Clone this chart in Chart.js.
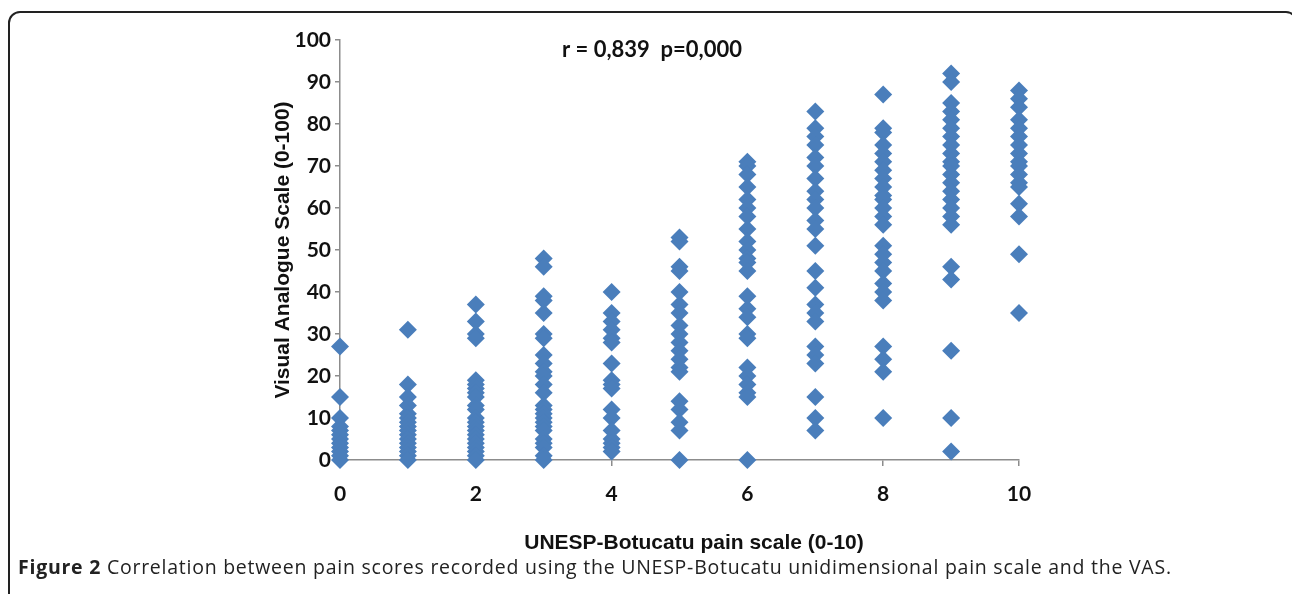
<!DOCTYPE html>
<html lang="en">

<head>
  <meta charset="UTF-8">
  <title>Figure 2</title>
  <script src="https://cdn.jsdelivr.net/npm/chart.js@4/dist/chart.umd.min.js"></script>
  <style>
    body {
      margin: 0;
      width: 1292px;
      height: 594px;
      overflow: hidden;
      background: #fff;
    }

    .frame {
      position: absolute;
      left: 8px;
      top: 11px;
      width: 1290px;
      height: 620px;
      border: 2px solid #222;
      border-radius: 12px;
      box-sizing: border-box;
    }

    .chartdiv {
      position: absolute;
      left: 0;
      top: 0;
      width: 1292px;
      height: 560px;
    }

    .caption {
      position: absolute;
      left: 18px;
      top: 553px;
      font-family: "Open Sans", sans-serif;
      font-size: 19.5px;
      letter-spacing: 0.75px;
      color: #222;
      white-space: nowrap;
    }
  </style>
</head>

<body>

  <div class="frame"></div>

  <div class="chartdiv">
    <canvas id="myChart" width="1292" height="560"></canvas>
  </div>

  <div class="caption"><b>Figure 2</b> Correlation between pain scores recorded using the UNESP-Botucatu unidimensional pain scale and the VAS.</div>

  <script>

    // UNESP-Botucatu score (x) and the VAS readings seen at each score (y)
    const unespScores = [0, 1, 2, 3, 4, 5, 6, 7, 8, 9, 10];

    const vasScore0 = [27, 15, 10, 8, 7, 6, 5, 4, 3, 2, 1, 0];
    const vasScore1 = [31, 18, 15, 13, 11, 10, 9, 8, 7, 6, 5, 4, 3, 2, 1, 0];
    const vasScore2 = [37, 33, 30, 29, 19, 18, 17, 16, 15, 13, 12, 10, 9, 8, 7, 6, 5, 4, 3, 2, 1, 0];
    const vasScore3 = [48, 46, 39, 38, 35, 30, 29, 25, 23, 21, 20, 18, 16, 13, 12, 11, 10, 9, 8, 7, 5, 4, 3, 1, 0];
    const vasScore4 = [40, 35, 33, 31, 29, 28, 23, 19, 18, 17, 12, 10, 7, 5, 4, 3, 2];
    const vasScore5 = [53, 52, 46, 45, 40, 37, 35, 32, 30, 28, 26, 24, 22, 21, 14, 12, 9, 7, 0];
    const vasScore6 = [71, 70, 68, 65, 62, 60, 58, 55, 52, 50, 48, 47, 45, 39, 36, 34, 30, 29, 22, 20, 18, 16, 15, 0];
    const vasScore7 = [83, 79, 77, 75, 72, 70, 67, 64, 62, 60, 57, 55, 51, 45, 41, 37, 35, 33, 27, 25, 23, 15, 10, 7];
    const vasScore8 = [87, 79, 78, 75, 73, 71, 69, 67, 65, 63, 62, 60, 58, 56, 51, 49, 47, 45, 42, 40, 38, 27, 24, 21, 10];
    const vasScore9 = [92, 90, 85, 83, 81, 79, 77, 75, 73, 71, 70, 68, 66, 64, 62, 60, 58, 56, 46, 43, 26, 10, 2];
    const vasScore10 = [88, 86, 84, 81, 79, 77, 75, 73, 71, 70, 68, 66, 65, 61, 58, 49, 35];

    const vasColumns = [vasScore0, vasScore1, vasScore2, vasScore3, vasScore4, vasScore5,
      vasScore6, vasScore7, vasScore8, vasScore9, vasScore10];

    const xTicks = [0, 2, 4, 6, 8, 10];
    const yTicks = [0, 10, 20, 30, 40, 50, 60, 70, 80, 90, 100];

    const statsLabel = 'r = 0,839  p=0,000';
    const xAxisTitle = 'UNESP-Botucatu pain scale (0-10)';

    /* flatten the columns into scatter points */
    const points = [];
    unespScores.forEach(function (score, i) {
      vasColumns[i].forEach(function (v) {
        points.push({ x: score, y: v });
      });
    });

    const axisGrey = '#8c8c8c';
    const tickFont = { family: 'Lato, sans-serif', size: 21, weight: 'bold' };
    const titleFont = { family: '"Liberation Sans", Arial, sans-serif', size: 21, weight: 'bold' };

    /* r / p text inside the plot, and the x title (sits a bit right of the axis centre) */
    const extraText = {
      id: 'extraText',
      afterDatasetsDraw(chart) {
        const ctx = chart.ctx;
        ctx.save();
        ctx.fillStyle = '#111';
        ctx.textAlign = 'center';
        ctx.textBaseline = 'middle';
        ctx.font = 'bold 22px Lato, sans-serif';
        ctx.fillText(statsLabel, 652, 50);
        ctx.font = 'bold 21px "Liberation Sans", Arial, sans-serif';
        ctx.fillText(xAxisTitle, 694, 543);
        ctx.restore();
      }
    };

    const config = {
      type: 'scatter',
      data: {
        datasets: [{
          label: 'VAS',
          data: points,
          clip: false,
          pointStyle: 'rectRot',
          pointRadius: 9,
          pointHoverRadius: 9,
          backgroundColor: '#4a7ebb',
          borderColor: '#4a7ebb',
          borderWidth: 0
        }]
      },
      options: {
        responsive: false,
        animation: false,
        layout: {
          padding: { left: 271, right: 273, top: 40, bottom: 0 }
        },
        plugins: {
          legend: { display: false },
          tooltip: { enabled: false }
        },
        scales: {
          x: {
            type: 'linear',
            min: 0,
            max: 10,
            afterBuildTicks(scale) {
              scale.ticks = xTicks.map(v => ({ value: v }));
            },
            afterFit(scale) {
              scale.height = 100;
            },
            border: { color: axisGrey, width: 1.5 },
            grid: { drawOnChartArea: false, tickLength: 6, color: axisGrey, lineWidth: 1.5 },
            ticks: { font: tickFont, color: '#111', padding: 16 }
          },
          y: {
            min: 0,
            max: 100,
            afterBuildTicks(scale) {
              scale.ticks = yTicks.map(v => ({ value: v }));
            },
            afterFit(scale) {
              scale.width = 69;
            },
            border: { color: axisGrey, width: 1.5 },
            grid: { drawOnChartArea: false, tickLength: 5, color: axisGrey, lineWidth: 1.5 },
            ticks: { font: tickFont, color: '#111', padding: 4 },
            title: {
              display: true,
              text: 'Visual Analogue Scale (0-100)',
              font: titleFont,
              color: '#111',
              padding: { top: 0, bottom: 0 }
            }
          }
        }
      },
      plugins: [extraText]
    };

    var myChart = new Chart(document.getElementById('myChart'), config);

  </script>

</body>

</html>
